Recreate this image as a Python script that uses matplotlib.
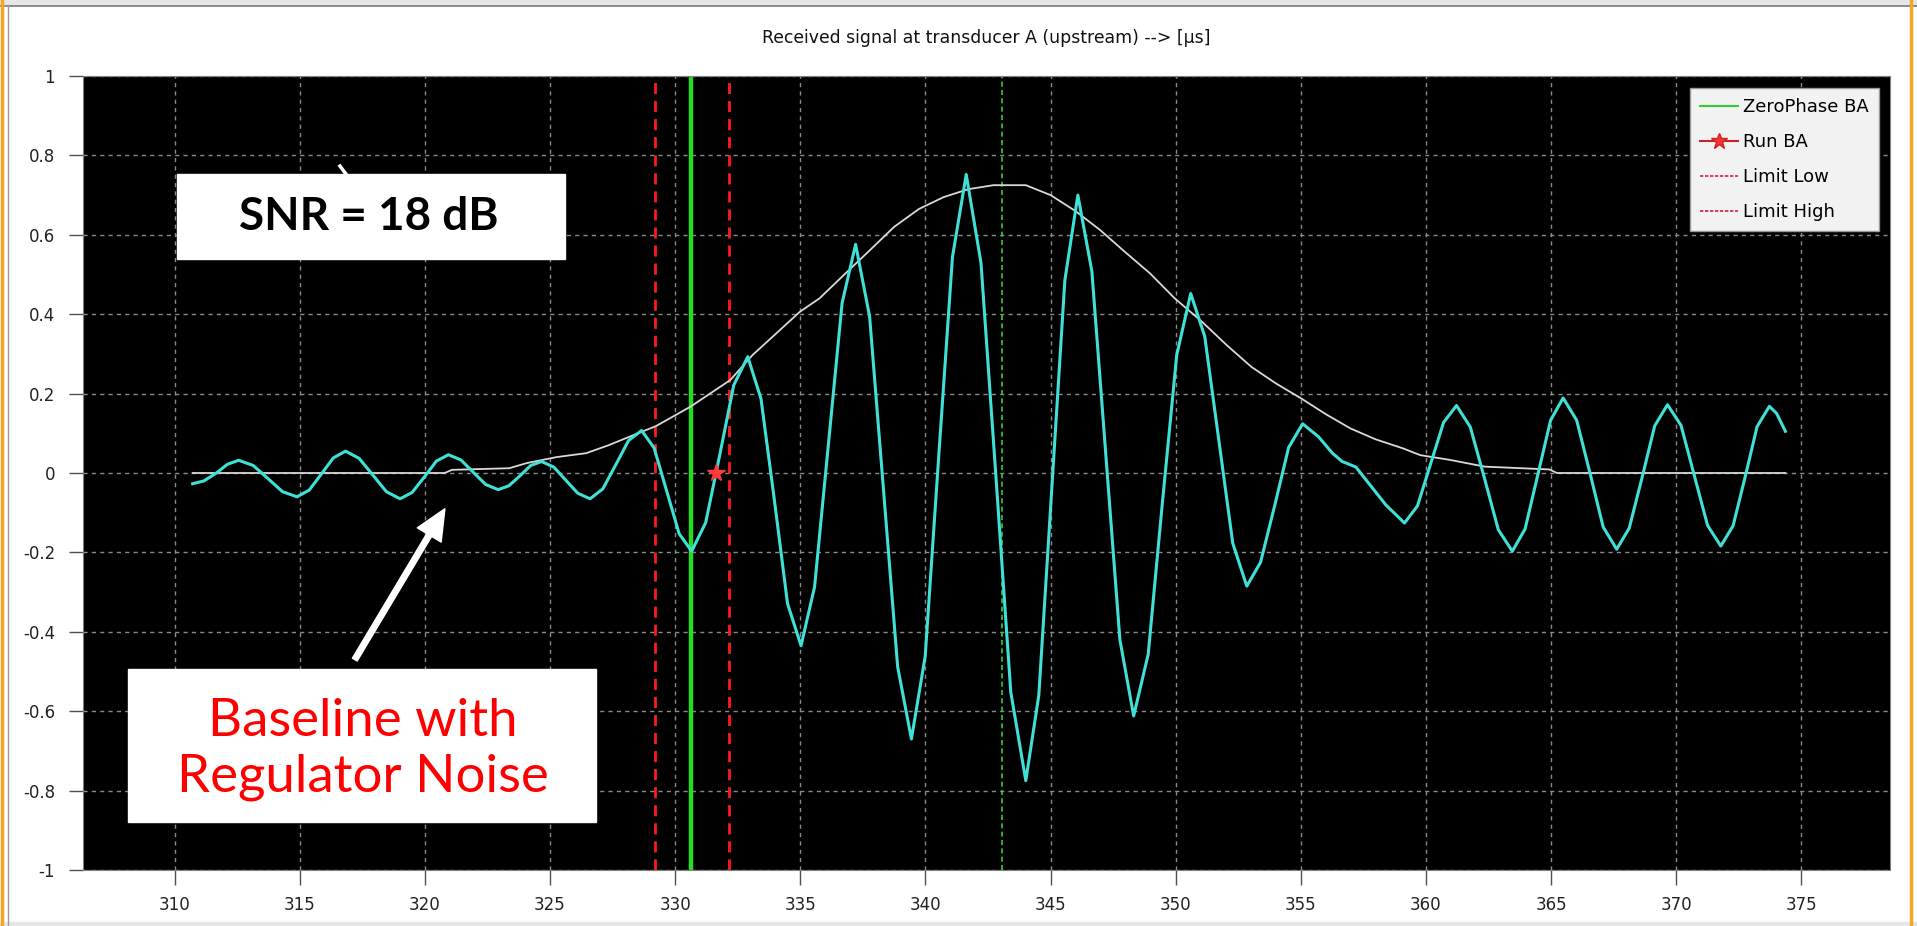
import numpy as np
import matplotlib
matplotlib.use("Agg")
import matplotlib.pyplot as plt
from matplotlib.patches import Rectangle
from matplotlib.lines import Line2D

# received signal (time in us, amplitude)
signal_t = [310.72, 311.17, 311.67, 312.11, 312.56,
            313.14, 313.73, 314.31, 314.89,
            315.38, 315.86, 316.34, 316.83,
            317.37, 317.92, 318.46, 319.01,
            319.49, 319.98, 320.46, 320.94,
            321.44, 321.93, 322.43, 322.93,
            323.36, 323.80, 324.23, 324.66,
            325.15, 325.63, 326.11, 326.60,
            327.11, 327.63, 328.14, 328.66,
            329.16, 329.66, 330.16, 330.66,
            331.22, 331.79, 332.34, 332.90,
            333.43, 333.97, 334.49, 335.03,
            335.57, 336.12, 336.67, 337.21,
            337.77, 338.33, 338.89, 339.44,
            339.99, 340.53, 341.08, 341.63,
            342.22, 342.82, 343.41, 344.01,
            344.53, 345.05, 345.57, 346.09,
            346.65, 347.21, 347.77, 348.32,
            348.90, 349.46, 350.04, 350.60,
            351.16, 351.72, 352.28, 352.84,
            353.39, 353.96, 354.51, 355.07,
            355.71, 356.26, 356.65, 357.20, 357.60, 358.39, 359.14,
            359.66, 360.18, 360.70, 361.22,
            361.77, 362.34, 362.89, 363.45,
            363.96, 364.47, 364.98, 365.48,
            366.02, 366.56, 367.08, 367.62,
            368.12, 368.64, 369.14, 369.65,
            370.19, 370.72, 371.25, 371.78,
            372.27, 372.76, 373.23, 373.72,
            374.01, 374.36]
signal_v = [-0.027, -0.02, 0.0, 0.022, 0.032,
            0.019, -0.014, -0.047, -0.060,
            -0.043, -0.003, 0.038, 0.055,
            0.037, -0.005, -0.047, -0.065,
            -0.049, -0.010, 0.030, 0.046,
            0.033, 0.002, -0.029, -0.042,
            -0.032, -0.007, 0.019, 0.029,
            0.015, -0.018, -0.051, -0.065,
            -0.040, 0.021, 0.082, 0.107,
            0.063, -0.045, -0.153, -0.197,
            -0.125, 0.048, 0.221, 0.293,
            0.187, -0.071, -0.329, -0.435,
            -0.287, 0.070, 0.428, 0.576,
            0.394, -0.047, -0.488, -0.670,
            -0.462, 0.041, 0.544, 0.752,
            0.529, -0.012, -0.552, -0.775,
            -0.560, -0.038, 0.485, 0.700,
            0.508, 0.044, -0.420, -0.612,
            -0.457, -0.080, 0.297, 0.452,
            0.344, 0.084, -0.177, -0.285,
            -0.225, -0.081, 0.064, 0.124,
            0.091, 0.050, 0.029, 0.015, -0.017, -0.080, -0.126,
            -0.083, 0.022, 0.127, 0.170,
            0.116, -0.014, -0.143, -0.197,
            -0.141, -0.004, 0.133, 0.189,
            0.133, -0.002, -0.136, -0.192,
            -0.139, -0.010, 0.119, 0.172,
            0.120, -0.006, -0.132, -0.184,
            -0.133, -0.008, 0.117, 0.168,
            0.150, 0.105]

# envelope of the signal
env_t = [310.72, 320.79, 321.09, 323.37, 324.07, 325.26, 326.45, 327.34, 328.63, 329.23,
         330.61, 332.20, 333.09, 333.89, 334.98, 335.77, 336.76, 337.76, 338.75, 339.74,
         340.73, 341.72, 342.72, 344.01, 345.00, 345.99, 346.98, 347.97, 348.97, 349.96,
         351.05, 352.04, 353.03, 354.02, 355.01, 356.00, 356.99, 357.98, 359.08, 359.77,
         360.96, 362.35, 364.93, 365.23, 374.36]
env_v = [0.0, 0.0, 0.008, 0.012, 0.025, 0.040, 0.050, 0.070, 0.103, 0.118,
         0.167, 0.234, 0.297, 0.343, 0.406, 0.44, 0.50, 0.56, 0.62, 0.665,
         0.695, 0.715, 0.725, 0.725, 0.70, 0.66, 0.612, 0.557, 0.503, 0.44,
         0.381, 0.322, 0.267, 0.225, 0.188, 0.148, 0.112, 0.085, 0.062, 0.045,
         0.033, 0.016, 0.009, 0.0, 0.0]

zero_phase_ba = 330.62
limit_low = 329.2
limit_high = 332.15
second_zero = 343.05
run_ba_t = [331.63]
run_ba_v = [0.0]

xticks = list(range(310, 380, 5))
yticks = [-1, -0.8, -0.6, -0.4, -0.2, 0, 0.2, 0.4, 0.6, 0.8, 1]
ytick_labels = ["-1", "-0.8", "-0.6", "-0.4", "-0.2", "0", "0.2", "0.4", "0.6", "0.8", "1"]

W, H = 1917, 926
fig = plt.figure(figsize=(W / 100, H / 100), dpi=100)
fig.patch.set_facecolor("white")

# window chrome
fig.add_artist(Rectangle((0, (H - 5) / H), 1, 5 / H, transform=fig.transFigure, color="#e6e6e6", zorder=0))
fig.add_artist(Line2D([0, 1], [(H - 5.5) / H] * 2, transform=fig.transFigure, color="#7a7a7a", lw=1.2))
fig.add_artist(Rectangle((0, 0), 1, 4 / H, transform=fig.transFigure, color="#e6e6e6", zorder=0))
fig.add_artist(Line2D([2 / W] * 2, [0, 1], transform=fig.transFigure, color="#f5a623", lw=2.5))
fig.add_artist(Line2D([1911 / W] * 2, [0, 1], transform=fig.transFigure, color="#f5a623", lw=2.5))
fig.add_artist(Line2D([8 / W] * 2, [0, (H - 5) / H], transform=fig.transFigure, color="#9a9a9a", lw=1))

ax = fig.add_axes([83 / W, 1 - 870 / H, (1890 - 83) / W, (870 - 76) / H])
ax.set_facecolor("black")
ax.set_xlim(306.34, 378.54)
ax.set_ylim(-1, 1)

ax.set_xticks(xticks)
ax.set_yticks(yticks)
ax.set_yticklabels(ytick_labels)
ax.tick_params(axis="x", length=11, width=1, color="#505050", pad=8, labelsize=12, labelcolor="#222222")
ax.tick_params(axis="y", length=10, width=1, color="#505050", pad=10, labelsize=12, labelcolor="#222222")
ax.grid(True, color="#8a8a8a", linestyle=(0, (3, 3)), linewidth=1)
for s in ax.spines.values():
    s.set_color("#808080")

ax.set_title("Received signal at transducer A (upstream) --> [µs]", fontsize=12.4, color="#111111", pad=24)

ax.plot(env_t, env_v, color="#d9d9d9", lw=1.3, zorder=3)
ax.axvline(limit_low, color="#ff1a1a", lw=2, linestyle=(0, (4, 2.5)), zorder=2)
ax.axvline(limit_high, color="#ff1a1a", lw=2, linestyle=(0, (4, 2.5)), zorder=2)
ax.axvline(zero_phase_ba, color="#22dd22", lw=3.2, zorder=2)
ax.axvline(second_zero, color="#33cc33", lw=1.2, linestyle=(0, (3, 2)), zorder=2)
ax.plot(signal_t, signal_v, color="#3fe0d6", lw=2.2, zorder=4)
ax.plot(run_ba_t, run_ba_v, linestyle="none", marker="*", markersize=13, color="#ff3b3b", zorder=5)

# legend
handles = [
    Line2D([], [], color="#33cc33", lw=1.5),
    Line2D([], [], color="#cc2222", lw=1.5, marker="*", markersize=12, markerfacecolor="#ff3333", markeredgecolor="#cc2222"),
    Line2D([], [], color="#cc2244", lw=1.2, linestyle=(0, (2, 1))),
    Line2D([], [], color="#cc2244", lw=1.2, linestyle=(0, (2, 1))),
]
labels = ["ZeroPhase BA", "Run BA", "Limit Low", "Limit High"]
leg = ax.legend(handles, labels, loc="upper right", bbox_to_anchor=(0.994, 0.985), fontsize=13,
                frameon=True, fancybox=False, handlelength=2.1, handletextpad=0.3,
                borderpad=0.55, labelspacing=0.95, borderaxespad=0)
leg.get_frame().set_facecolor("#f2f2f2")
leg.get_frame().set_edgecolor("#999999")
leg.get_frame().set_alpha(1)
leg.set_zorder(10)

# annotation boxes
ax.add_patch(Rectangle((0.052, 0.770), 0.215, 0.107, transform=ax.transAxes, color="white", zorder=8))
ax.text(0.158, 0.822, "SNR = 18 dB", transform=ax.transAxes, ha="center", va="center",
        fontsize=33, fontweight="bold", family="Lato", color="black", zorder=9)
ax.add_line(Line2D([0.1422, 0.1455], [0.8866, 0.8766], transform=ax.transAxes, color="white", lw=2.5, zorder=9))

ax.add_patch(Rectangle((0.025, 0.060), 0.259, 0.193, transform=ax.transAxes, color="white", zorder=8))
ax.text(0.155, 0.152, "Baseline with\nRegulator Noise", transform=ax.transAxes, ha="center", va="center",
        fontsize=38, family="Lato", color="#ff0000", linespacing=1.22, zorder=9)

ax.annotate("", xy=(320.8, -0.09), xytext=(317.2, -0.47),
            arrowprops=dict(facecolor="white", edgecolor="white", width=4, headwidth=20, headlength=22),
            zorder=9)

fig.savefig("out.png", dpi=100, facecolor=fig.get_facecolor())
